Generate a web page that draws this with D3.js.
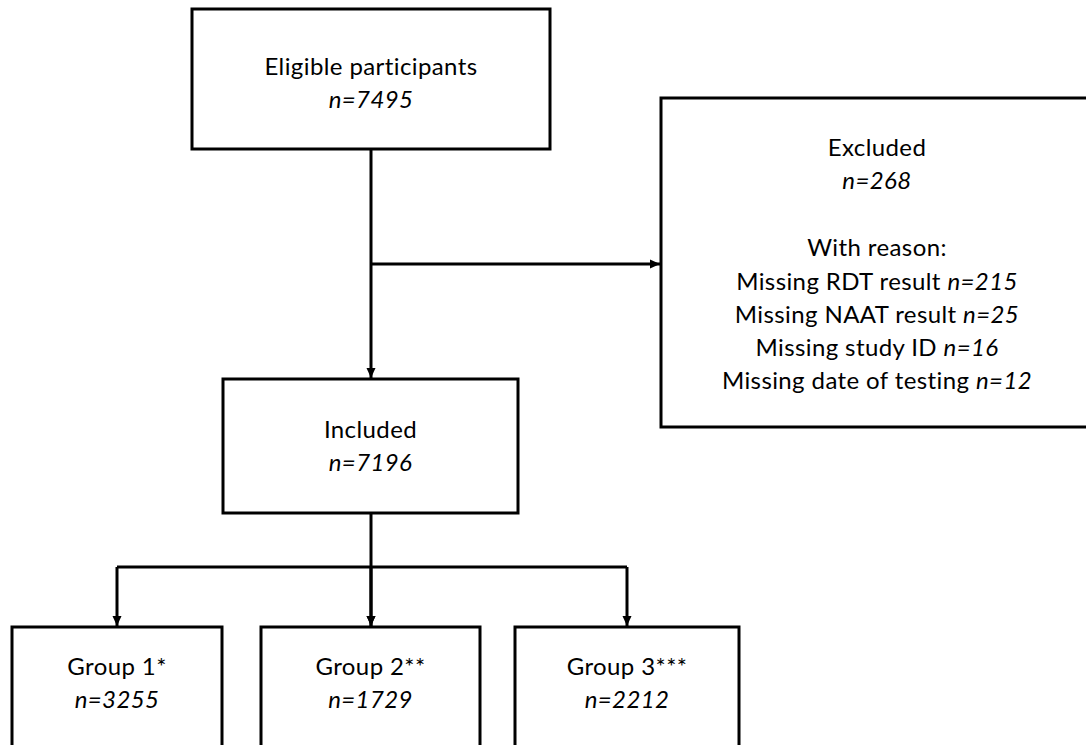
<!DOCTYPE html>
<html>
<head>
<meta charset="utf-8">
<script src="https://cdn.jsdelivr.net/npm/d3@7"></script>
<style>
  body { margin: 0; background: #fff; }
  svg { display: block; }
  text { font-family: Lato, "Open Sans", sans-serif; font-size: 24px; letter-spacing: 0.4px; fill: #000; }
</style>
</head>
<body>
<div class="chart"></div>
<script>
// flowchart data
var stages = ['Eligible participants', 'Included'];
var stageN = [7495, 7196];
var excludedLabel = 'Excluded';
var excludedN = 268;
var reasons = ['Missing RDT result', 'Missing NAAT result', 'Missing study ID', 'Missing date of testing'];
var reasonN = [215, 25, 16, 12];
var groups = ['Group 1*', 'Group 2**', 'Group 3***'];
var groupN = [3255, 1729, 2212];

var width = 1086, height = 745;

// box geometry (layout only)
var boxes = {
    eligible: {x: 192, y: 9, w: 358, h: 140},
    included: {x: 223, y: 379, w: 295, h: 134},
    excluded: {x: 661, y: 98, w: 440, h: 329},
    g: [{x: 12, w: 210}, {x: 261, w: 219}, {x: 515, w: 224}]
};
var groupTop = 627, groupH = 140, splitY = 567, sideY = 264, trunkX = 371;

var svg = d3.select('.chart').append('svg')
    .attr('width', width)
    .attr('height', height);

var defs = svg.append('defs');
defs.append('marker')
    .attr('id', 'arrow')
    .attr('viewBox', '0 0 10 10')
    .attr('refX', 10).attr('refY', 5)
    .attr('markerWidth', 10).attr('markerHeight', 10)
    .attr('markerUnits', 'userSpaceOnUse')
    .attr('orient', 'auto')
    .append('path')
    .attr('d', 'M0,0.5 L10,5 L0,9.5 Z')
    .attr('fill', '#000');

function drawBox(b) {
    svg.append('rect')
        .attr('x', b.x).attr('y', b.y)
        .attr('width', b.w).attr('height', b.h)
        .attr('fill', 'none')
        .attr('stroke', '#000')
        .attr('stroke-width', 3);
}

// two-line label: name + italic n
function label(cx, y, name, n) {
    svg.append('text')
        .attr('x', cx).attr('y', y)
        .attr('text-anchor', 'middle')
        .text(name);
    svg.append('text')
        .attr('x', cx).attr('y', y + 33)
        .attr('text-anchor', 'middle')
        .style('font-style', 'italic')
        .text('n=' + n);
}

function line(pts, arrow) {
    var p = svg.append('path')
        .attr('d', d3.line()(pts))
        .attr('fill', 'none')
        .attr('stroke', '#000')
        .attr('stroke-width', 3);
    if (arrow) p.attr('marker-end', 'url(#arrow)');
}

// boxes
drawBox(boxes.eligible);
drawBox(boxes.included);
drawBox(boxes.excluded);
boxes.g.forEach(function (g) {
    drawBox({x: g.x, y: groupTop, w: g.w, h: groupH});
});

// labels
var e = boxes.eligible, inc = boxes.included, ex = boxes.excluded;
label(e.x + e.w / 2, 75, stages[0], stageN[0]);
label(inc.x + inc.w / 2, 438, stages[1], stageN[1]);

var exCx = 877;
label(exCx, 156, excludedLabel, excludedN);
svg.append('text')
    .attr('x', exCx).attr('y', 256)
    .attr('text-anchor', 'middle')
    .text('With reason:');
var rt = svg.append('g').selectAll('text')
    .data(reasons)
    .enter()
    .append('text')
    .attr('x', exCx)
    .attr('y', function (d, i) { return 290 + 33 * i; })
    .attr('text-anchor', 'middle');
rt.append('tspan').text(function (d) { return d + ' '; });
rt.append('tspan')
    .style('font-style', 'italic')
    .text(function (d, i) { return 'n=' + reasonN[i]; });

groups.forEach(function (name, i) {
    var g = boxes.g[i];
    label(g.x + g.w / 2, 675, name, groupN[i]);
});

// connectors
line([[trunkX, e.y + e.h], [trunkX, inc.y - 1]], true);
line([[trunkX, sideY], [ex.x - 1, sideY]], true);
line([[trunkX, inc.y + inc.h], [trunkX, groupTop - 1]], true);
var arrowX = [117, 371, 627];
line([[arrowX[0], splitY], [arrowX[2], splitY]], false);
arrowX.forEach(function (x) {
    line([[x, splitY], [x, groupTop - 1]], true);
});
</script>
</body>
</html>
